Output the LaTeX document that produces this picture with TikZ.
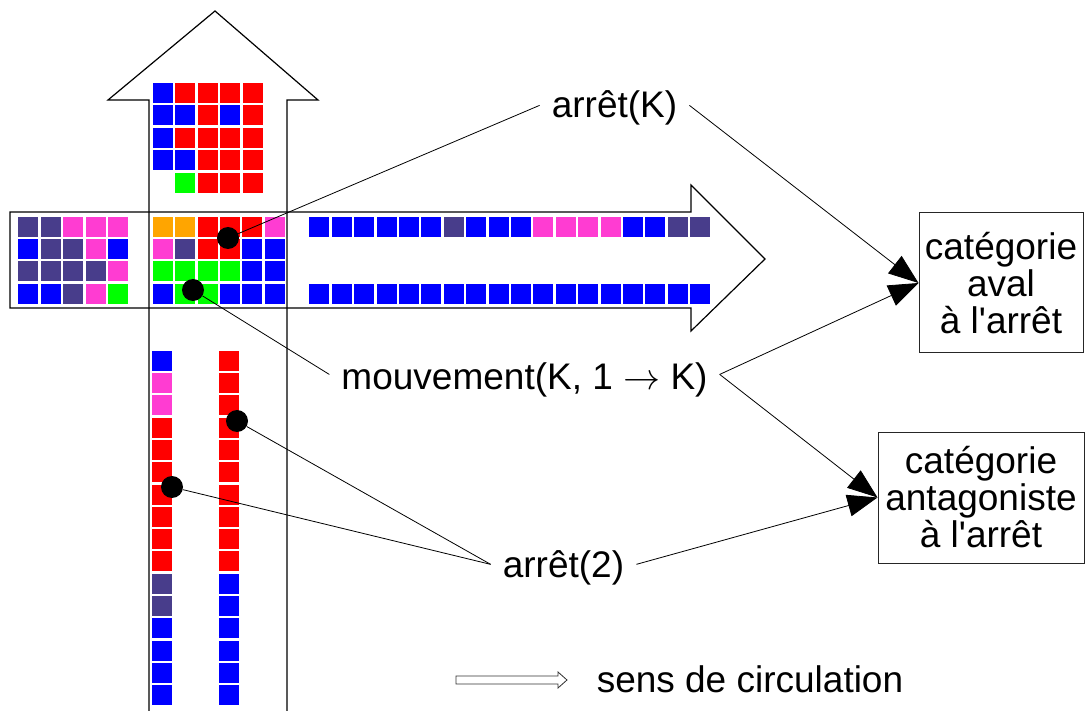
\RequirePackage{fix-cm}
\documentclass[tikz,border=0pt]{standalone}
\usepackage{fontspec}
\newfontfamily\lab{Liberation Sans}
\usetikzlibrary{arrows.meta}
\definecolor{cB}{HTML}{0000FF}
\definecolor{cR}{HTML}{FF0000}
\definecolor{cM}{HTML}{FF3CD2}
\definecolor{cN}{HTML}{483D8B}
\definecolor{cG}{HTML}{00FF00}
\definecolor{cO}{HTML}{FFA500}
\definecolor{cE}{HTML}{FFFFFF}
\newcommand\cellrow[3]{\foreach \c [count=\i from 0] in {#3}{\fill[fill=c\c] ({#1+\i*22.4},#2) rectangle ++(20,20);}}
\newcommand\cellcol[3]{\foreach \c [count=\i from 0] in {#3}{\fill[fill=c\c] (#1,{#2+\i*22.3}) rectangle ++(20,20);}}
\begin{document}
\begin{tikzpicture}[x=1pt,y=-1pt,
  outline/.style={draw=black, line width=1.2pt, line join=miter},
  lbl/.style={font=\lab\fontsize{37}{37}\selectfont, inner xsep=12pt, inner ysep=0pt, anchor=base},
  catbox/.style={draw=black!85, line width=1pt, align=center, inner sep=0pt, font=\lab\fontsize{37}{37}\selectfont},
  dot/.style={circle, fill=black, minimum size=22pt, inner sep=0pt},
  link/.style={line width=0.8pt},
  arr/.style={link, -{Triangle[length=30pt,width=22pt]}}]
\useasboundingbox (0,0) rectangle (1085,711);
\fill[white] (0,0) rectangle (1085,711);

% top grid
\cellrow{153}{83}{B,R,R,R,R}
\cellrow{153}{105.4}{B,B,R,B,R}
\cellrow{153}{127.8}{B,R,R,R,R}
\cellrow{153}{150.2}{B,B,R,R,R}
\cellrow{153}{172.6}{E,G,R,R,R}
% left grid
\cellrow{18.3}{216.7}{N,N,M,M,M}
\cellrow{18.3}{239.1}{B,N,N,M,B}
\cellrow{18.3}{261.5}{N,N,N,N,M}
\cellrow{18.3}{283.9}{B,B,N,M,G}
% middle grid
\cellrow{152.7}{216.7}{O,O,R,R,R,M}
\cellrow{152.7}{239.1}{M,N,R,R,B,B}
\cellrow{152.7}{261.5}{G,G,G,G,B,B}
\cellrow{152.7}{283.9}{B,G,G,B,B,B}
% right rows
\cellrow{309.3}{216.7}{B,B,B,B,B,B,N,B,B,B,M,M,M,M,B,B,N,N}
\cellrow{309.3}{284}{B,B,B,B,B,B,B,B,B,B,B,B,B,B,B,B,B,B}
% vertical columns
\cellcol{152.3}{350.7}{B,M,M,R,R,R,R,R,R,R,N,N,B,B,B,B}
\cellcol{219.3}{350.7}{R,R,R,R,R,R,R,R,R,R,B,B,B,B,B,B}

% arrow outlines
\draw[outline] (149,712) -- (149,100) -- (108,100) -- (215,11) -- (318,100) -- (287,100) -- (287,712);
\draw[outline] (10,212) -- (691,212) -- (691,185) -- (765,259) -- (691,331) -- (691,308) -- (10,308) -- cycle;

% labels
\node[lbl] (aK) at (614.5,118) {arrêt(K)};
\node[lbl] (mv) at (524.5,390) {mouvement(K, 1 $\rightarrow$ K)};
\node[lbl] (a2) at (563.5,577) {arrêt(2)};
\node[catbox, minimum width=164pt, minimum height=140pt] (box1) at (1001,283) {catégorie\\aval\\à l'arrêt};
\node[catbox, minimum width=206pt, minimum height=131pt] (box2) at (981,497.5) {catégorie\\antagoniste\\à l'arrêt};

% dots
\node[dot] (d1) at (228,238) {};
\node[dot] (d2) at (193,290) {};
\node[dot] (d3) at (237,421) {};
\node[dot] (d4) at (172,487) {};

% connectors
\draw[link] (d1) -- ([yshift=3pt]aK.west);
\draw[link] (d2) -- ([yshift=6pt]mv.west);
\draw[link] (d3) -- ([yshift=3pt]a2.west);
\draw[link] (d4) -- ([yshift=3pt]a2.west);
\draw[arr] ([yshift=3pt]aK.east) -- (box1.west);
\draw[arr] ([yshift=6pt]mv.east) -- (box1.west);
\draw[arr] ([yshift=6pt]mv.east) -- (box2.west);
\draw[arr] ([yshift=3pt]a2.east) -- (box2.west);

% legend
\draw[line width=0.8pt, draw=black!80] (456,676) -- (558,676) -- (558,672) -- (567,680) -- (558,688) -- (558,684) -- (456,684) -- cycle;
\node[lbl] (legend) at (750,692) {sens de circulation};
\end{tikzpicture}
\end{document}
